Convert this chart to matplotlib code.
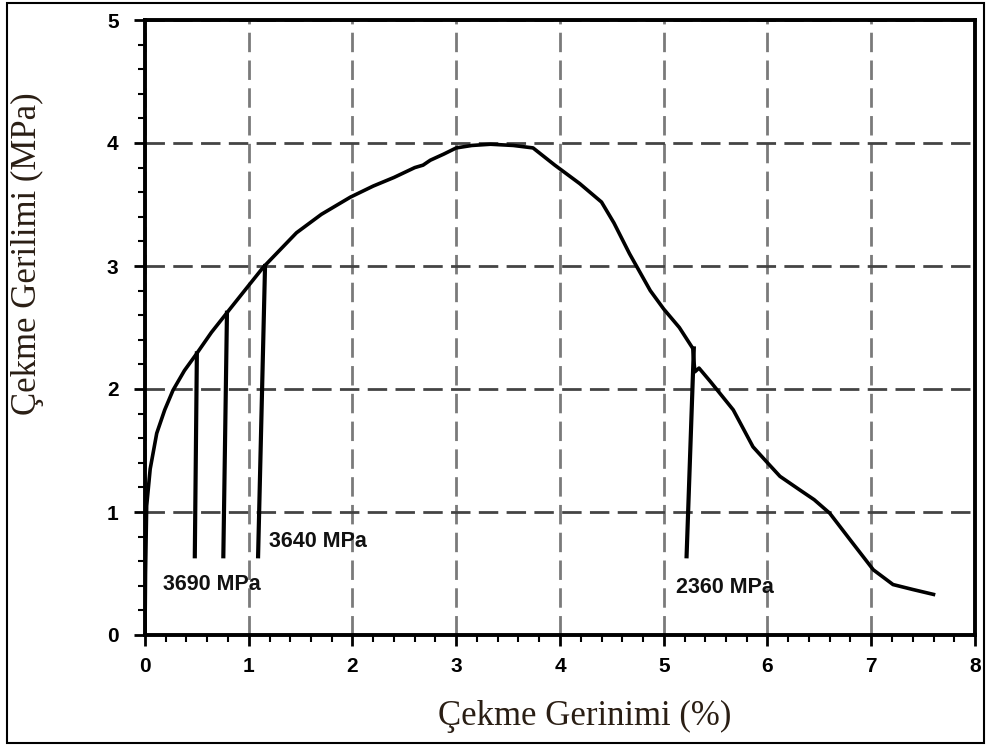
import matplotlib
matplotlib.use("Agg")
import matplotlib.pyplot as plt
from matplotlib.ticker import MultipleLocator
from matplotlib.patches import Rectangle
from matplotlib import font_manager

# ---- data ----
strain = [0.0, 0.005, 0.016, 0.05, 0.113, 0.19, 0.27, 0.38, 0.50, 0.64, 0.79, 0.96, 1.14, 1.30,
          1.46, 1.70, 1.98, 2.20, 2.40, 2.60, 2.68, 2.75, 2.88, 3.00, 3.15, 3.33, 3.55,
          3.74, 3.95, 4.19, 4.40, 4.52, 4.67, 4.87, 5.00, 5.15, 5.28, 5.30, 5.34, 5.45,
          5.67, 5.86, 6.00, 6.12, 6.31, 6.45, 6.60, 6.80, 7.02, 7.21, 7.40, 7.60]
stress = [0.0, 0.50, 1.05, 1.35, 1.64, 1.83, 1.99, 2.15, 2.29, 2.46, 2.62, 2.80, 2.99, 3.13,
          3.27, 3.42, 3.56, 3.65, 3.72, 3.80, 3.82, 3.86, 3.91, 3.96, 3.98, 3.99, 3.98,
          3.96, 3.82, 3.67, 3.52, 3.35, 3.10, 2.80, 2.65, 2.50, 2.33, 2.14, 2.17, 2.06,
          1.83, 1.53, 1.40, 1.29, 1.18, 1.10, 0.99, 0.77, 0.53, 0.41, 0.37, 0.33]

unload_x = [[0.50, 0.48], [0.79, 0.755], [1.157, 1.09], [5.29, 5.22]]
unload_y = [[2.29, 0.64], [2.62, 0.64], [3.00, 0.64], [2.33, 0.64]]

labels = ["3690 MPa", "3640 MPa", "2360 MPa"]
label_x = [0.64, 1.67, 5.59]
label_y = [0.41, 0.76, 0.39]

xticks = [0, 1, 2, 3, 4, 5, 6, 7, 8]
yticks = [0, 1, 2, 3, 4, 5]

# ---- fonts ----
names = {f.name for f in font_manager.fontManager.ttflist}
tick_font = "Liberation Sans Narrow" if "Liberation Sans Narrow" in names else "Liberation Sans"
serif_font = "Liberation Serif"

W, H = 987, 746
fig = plt.figure(figsize=(W / 100, H / 100), dpi=100)
ax = fig.add_axes([145 / W, 1 - 635 / H, (975 - 145) / W, (635 - 20) / H])

ax.plot(strain, stress, color="black", lw=2.6, solid_joinstyle="round", zorder=3)
for ux, uy in zip(unload_x, unload_y):
    ax.plot(ux, uy, color="black", lw=3.0, zorder=3)

for t, lx, ly in zip(labels, label_x, label_y):
    ax.text(lx, ly, t, ha="center", va="center", fontsize=15.5, fontweight="bold",
            family=tick_font, color="#111111", zorder=4)

ax.set_xlim(0, 8)
ax.set_ylim(0, 5)
ax.set_xticks(xticks)
ax.set_yticks(yticks)
ax.xaxis.set_minor_locator(MultipleLocator(0.2))
ax.yaxis.set_minor_locator(MultipleLocator(0.2))
ax.tick_params(which="major", direction="out", length=8, width=2, pad=8)
ax.tick_params(which="minor", direction="out", length=5, width=1.5)
ax.tick_params(axis="y", which="major", pad=11)
for lab in ax.get_xticklabels() + ax.get_yticklabels():
    lab.set_fontfamily(tick_font)
    lab.set_fontweight("bold")
    lab.set_fontsize(15)

for sp in ax.spines.values():
    sp.set_linewidth(2.8)
    sp.set_color("black")

ax.xaxis.grid(True, which="major", linestyle=(0, (7, 3)), color="#7a7a7a", lw=2.0)
ax.yaxis.grid(True, which="major", linestyle=(0, (7, 3)), color="#444444", lw=2.0)
ax.set_axisbelow(True)

ax.set_xlabel("Çekme Gerinimi (%)", family=serif_font, fontsize=25, color="#2a1e14")
ax.set_ylabel("Çekme Gerilimi (MPa)", family=serif_font, fontsize=25, color="#2a1e14")
ax.xaxis.set_label_coords(0.53, -0.105)
ax.yaxis.set_label_coords(-0.122, 0.62)

# outer border
fig.patches.append(Rectangle((7 / W, 3 / H), (984 - 7) / W, (743 - 3) / H,
                             transform=fig.transFigure, fill=False, ec="black", lw=1.5))

fig.savefig("out.png", dpi=100)
